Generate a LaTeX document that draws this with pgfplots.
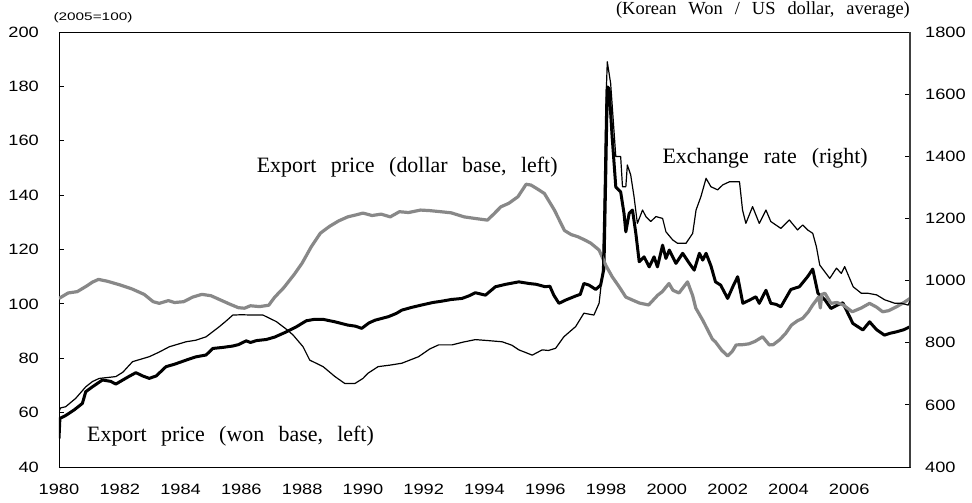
\documentclass[border=0pt]{standalone}
\usepackage{fontspec}
\setmainfont{Liberation Serif}
\setsansfont{Liberation Sans}
\usepackage{graphicx}
\usepackage{pgfplots}
\pgfplotsset{compat=1.18}
\definecolor{grayline}{RGB}{136,136,136}
\newcommand{\wsp}[1]{\spaceskip=#1\relax}
\newcommand{\tk}[1]{\scalebox{1.22}[1]{\sffamily\fontsize{15}{18}\selectfont #1}}
\begin{document}
\begin{tikzpicture}
\begin{axis}[name=ax, scale only axis, width=851bp, height=435bp,
  xmin=1980, xmax=2008, ymin=40, ymax=200,
  ytick={40,60,80,100,120,140,160,180,200},
  yticklabels={\tk{40},\tk{60},\tk{80},\tk{100},\tk{120},\tk{140},\tk{160},\tk{180},\tk{200}},
  xtick={1980,1982,1984,1986,1988,1990,1992,1994,1996,1998,2000,2002,2004,2006},
  xticklabels={\tk{1980},\tk{1982},\tk{1984},\tk{1986},\tk{1988},\tk{1990},\tk{1992},\tk{1994},\tk{1996},\tk{1998},\tk{2000},\tk{2002},\tk{2004},\tk{2006}},
  ytick pos=left, xtick pos=bottom, tick align=inside, major tick length=5bp,
  xtick style={draw=none}, ytick style={black, line width=0.8bp},
  axis line style={black, line width=0.9bp},
  tick label style={inner sep=0pt},
  yticklabel style={xshift=-20bp}, xticklabel style={yshift=-17bp},
  line join=round]
\addplot[black, line width=3bp, mark=none] coordinates {
(1980.0,50.5) (1980.03,57.9) (1980.2,58.8) (1980.5,61) (1980.77,63.4) (1980.88,67.7)
(1981.1,69.5) (1981.43,72) (1981.7,71.5) (1981.87,70.5) (1982.1,72) (1982.3,73.3)
(1982.53,74.7) (1982.75,73.5) (1982.97,72.6) (1983.2,73.5) (1983.52,76.9) (1983.8,77.8)
(1984.18,79.3) (1984.5,80.5) (1984.84,81.2) (1985.06,83.6) (1985.4,84) (1985.72,84.5)
(1985.9,85) (1986.16,86.4) (1986.3,85.8) (1986.5,86.5) (1986.82,86.9) (1987.1,87.8)
(1987.48,89.7) (1987.8,91.5) (1988.14,93.8) (1988.4,94.3) (1988.69,94.3) (1989.08,93.4)
(1989.5,92.2) (1989.75,91.8) (1989.96,91) (1990.2,93) (1990.4,94) (1990.84,95.3)
(1991.1,96.5) (1991.28,97.7) (1991.6,98.7) (1991.94,99.6) (1992.3,100.5) (1992.6,101)
(1992.9,101.6) (1993.26,102) (1993.5,103) (1993.7,104.1) (1994.03,103.2) (1994.36,106.3)
(1994.7,107.2) (1995.13,108.1) (1995.46,107.5) (1995.7,107.2) (1996.0,106.3) (1996.15,106.5)
(1996.28,103.2) (1996.45,100.2) (1996.67,101.4) (1997.0,102.9) (1997.15,103.5) (1997.27,107.5)
(1997.44,106.9) (1997.66,105.3) (1997.82,106.9) (1997.93,113) (1997.99,148) (1998.04,179.8)
(1998.1,179.2) (1998.2,161.4) (1998.32,143) (1998.48,141.2) (1998.59,133.3) (1998.65,126.5)
(1998.76,133.3) (1998.87,134.5) (1998.98,125.9) (1999.09,115.5) (1999.25,117.3) (1999.42,113.6)
(1999.58,117.3) (1999.69,113.6) (1999.86,121.6) (1999.97,116.7) (2000.08,119.8) (2000.3,114.9)
(2000.52,118.6) (2000.74,114.9) (2000.9,112.4) (2001.07,118.6) (2001.18,116.1) (2001.29,118.6)
(2001.45,114) (2001.6,108.1) (2001.77,106.9) (2002.0,102) (2002.17,106.3) (2002.33,110)
(2002.5,100.2) (2002.72,101.4) (2002.93,102.6) (2003.04,100.2) (2003.26,105) (2003.42,100.2)
(2003.6,99.8) (2003.75,98.9) (2004.08,105.3) (2004.36,106.3) (2004.63,110) (2004.8,112.8)
(2004.97,103.9) (2005.2,101.5) (2005.4,98.3) (2005.6,99.5) (2005.79,100.4) (2006.12,92.8)
(2006.45,90.4) (2006.67,93.4) (2006.9,90.5) (2007.16,88.5) (2007.35,89.2) (2007.55,89.7)
(2007.8,90.5) (2008.0,91.6)
};
\addplot[grayline, line width=3.2bp, mark=none] coordinates {
(1980.0,102) (1980.3,104) (1980.6,104.5) (1980.9,106.5) (1981.1,108) (1981.3,109)
(1981.6,108.3) (1982.0,107) (1982.4,105.5) (1982.8,103.5) (1983.1,100.8) (1983.3,100.2)
(1983.6,101.2) (1983.8,100.5) (1984.1,100.8) (1984.4,102.5) (1984.7,103.5) (1985.0,103)
(1985.3,101.5) (1985.6,100) (1985.9,98.6) (1986.1,98.4) (1986.3,99.3) (1986.6,99)
(1986.9,99.5) (1987.1,102.5) (1987.4,106) (1987.75,111) (1988.0,115) (1988.3,121)
(1988.6,126) (1988.9,128.5) (1989.2,130.5) (1989.5,132) (1989.8,132.8) (1990.0,133.4)
(1990.3,132.5) (1990.6,133) (1990.9,132) (1991.2,133.9) (1991.5,133.6) (1991.9,134.5)
(1992.2,134.3) (1992.56,133.9) (1992.9,133.5) (1993.33,132) (1993.7,131.4) (1994.1,130.8)
(1994.3,133) (1994.54,135.7) (1994.8,137) (1995.1,139.4) (1995.37,144) (1995.53,143.7)
(1995.75,142.2) (1995.97,140.6) (1996.3,134.5) (1996.63,127) (1996.85,125.5) (1997.07,124.7)
(1997.3,123.5) (1997.5,122.3) (1997.77,119.8) (1998.0,114) (1998.2,110) (1998.43,106.3)
(1998.65,102.5) (1998.87,101.4) (1999.1,100.3) (1999.4,99.6) (1999.7,103.2) (1999.85,104.5)
(2000.07,107.5) (2000.2,105) (2000.4,104) (2000.68,108.1) (2000.85,103) (2000.95,98.5)
(2001.18,94) (2001.5,87) (2001.6,86) (2001.8,83) (2002.0,80.8) (2002.15,82.5)
(2002.28,84.9) (2002.5,85) (2002.7,85.3) (2002.9,86.2) (2003.15,87.9) (2003.37,84.9)
(2003.5,85) (2003.7,86.7) (2003.9,89) (2004.1,92.2) (2004.3,93.8) (2004.47,94.7)
(2004.65,97) (2004.8,99.6) (2005.0,102.6) (2005.05,98.5) (2005.1,103.5) (2005.2,103.9)
(2005.4,100.2) (2005.6,100.5) (2005.8,99.6) (2006.1,97.1) (2006.4,98.5) (2006.67,100.2)
(2006.9,98.8) (2007.1,97.1) (2007.3,97.5) (2007.55,98.9) (2007.8,100.5) (2008.0,102)
};
\node[anchor=base west, inner sep=0pt, font=\fontsize{22}{26}\selectfont] at (axis cs:1986.5,148.5) {\wsp{14.5bp}Export price (dollar base, left)};
\node[anchor=base west, inner sep=0pt, font=\fontsize{22}{26}\selectfont] at (axis cs:1999.85,151.65) {\wsp{15bp}Exchange rate (right)};
\node[anchor=base west, inner sep=0pt, font=\fontsize{22}{26}\selectfont] at (axis cs:1980.92,49.3) {\wsp{14.3bp}Export price (won base, left)};
\end{axis}
\begin{axis}[scale only axis, width=851bp, height=435bp,
  xmin=1980, xmax=2008, ymin=400, ymax=1800,
  ytick={400,600,800,1000,1200,1400,1600,1800},
  yticklabels={\tk{400},\tk{600},\tk{800},\tk{1000},\tk{1200},\tk{1400},\tk{1600},\tk{1800}},
  axis y line*=right, axis x line=none, tick align=inside, major tick length=5bp,
  ytick style={black, line width=0.8bp},
  y axis line style={black!75, line width=1.8bp},
  tick label style={inner sep=0pt},
  yticklabel style={xshift=15bp},
  line join=round]
\addplot[black, line width=1.2bp, mark=none] coordinates {
(1980.0,578) (1980.05,590) (1980.22,594) (1980.55,621) (1980.88,658) (1981.1,675)
(1981.32,685) (1981.87,691) (1982.1,705) (1982.42,739) (1982.97,755) (1983.3,770)
(1983.63,787) (1984.18,803) (1984.5,808) (1984.84,819) (1985.28,852) (1985.5,870)
(1985.72,889) (1986.0,890) (1986.38,889) (1986.71,889) (1986.9,880) (1987.15,868)
(1987.5,842) (1987.7,825) (1988.03,787) (1988.25,744) (1988.69,723) (1989.08,691)
(1989.4,669) (1989.74,669) (1990.0,685) (1990.17,702) (1990.5,723) (1990.9,728)
(1991.28,734) (1991.83,755) (1992.2,780) (1992.49,793) (1992.93,793) (1993.3,802)
(1993.7,810) (1994.1,807) (1994.58,803) (1994.9,792) (1995.13,777) (1995.57,760)
(1995.9,777) (1996.1,775) (1996.34,782) (1996.61,819) (1997.0,852) (1997.27,895)
(1997.6,889) (1997.77,927) (1997.88,1023) (1997.93,1238) (1997.99,1560) (1998.04,1704)
(1998.15,1635) (1998.32,1399) (1998.48,1399) (1998.54,1302) (1998.65,1302) (1998.7,1372)
(1998.81,1340) (1998.92,1270) (1999.03,1184) (1999.2,1227) (1999.31,1206) (1999.47,1190)
(1999.64,1206) (1999.86,1200) (1999.97,1157) (2000.19,1131) (2000.35,1120) (2000.63,1120)
(2000.85,1152) (2000.96,1227) (2001.12,1270) (2001.29,1329) (2001.45,1302) (2001.67,1292)
(2001.84,1308) (2002.06,1318) (2002.39,1318) (2002.49,1227) (2002.6,1184) (2002.82,1238)
(2003.04,1184) (2003.26,1227) (2003.42,1190) (2003.75,1168) (2004.03,1195) (2004.3,1163)
(2004.47,1179) (2004.63,1163) (2004.8,1152) (2004.92,1109) (2005.03,1050) (2005.36,1007)
(2005.58,1040) (2005.74,1023) (2005.85,1045) (2006.13,980) (2006.4,959) (2006.62,959)
(2006.9,954) (2007.17,938) (2007.5,927) (2007.72,927) (2007.94,921) (2008.0,935)
};
\end{axis}
\node[inner sep=0pt] at ([xshift=34bp,yshift=14.5bp]ax.north west) {\scalebox{1.4}[1]{\sffamily\fontsize{11}{13}\selectfont (2005=100)}};
\node[anchor=base east, inner sep=0pt, font=\fontsize{18.5}{21}\selectfont] at ([yshift=17bp]ax.north east) {\wsp{12bp}(Korean Won / US dollar, average)};
\path ([xshift=-59bp,yshift=-36bp]ax.south west) rectangle ([xshift=62bp,yshift=32bp]ax.north east);
\end{tikzpicture}
\end{document}
